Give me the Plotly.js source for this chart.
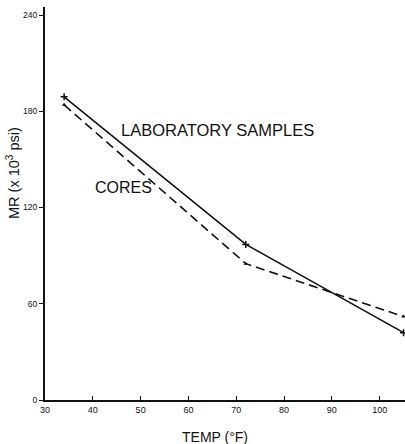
<!DOCTYPE html>
<html>
<head>
<meta charset="utf-8">
<script src="https://cdn.plot.ly/plotly-3.0.1.min.js"></script>
<style>html,body{margin:0;padding:0;background:#fff;}#chart{width:405px;height:444px;}</style>
</head>
<body>
<div id="chart"></div>
<script>
const temps = [34, 72, 105];
const labSamples = [189, 97, 42];
const cores = [184, 85, 52];
const xTicks = [30, 40, 50, 60, 70, 80, 90, 100];
const yTicks = [0, 60, 120, 180, 240];

const traces = [
  {x: temps, y: labSamples, mode: 'lines+markers', name: 'LABORATORY SAMPLES',
   line: {color: '#111', width: 1.6}, marker: {symbol: 'cross-thin', size: 5, color: '#111', line: {color: '#111', width: 1.5}}},
  {x: temps, y: cores, mode: 'lines+markers', name: 'CORES',
   line: {color: '#111', width: 1.6, dash: '9px,5px'}, marker: {symbol: 'triangle-up', size: 4, color: '#111'}}
];

const W = 360, H = 393;
const layout = {
  width: 405, height: 444,
  margin: {l: 45, r: 0, t: 7, b: 44},
  paper_bgcolor: '#fff', plot_bgcolor: '#fff',
  showlegend: false,
  font: {family: 'Liberation Sans, Arial, sans-serif', color: '#111'},
  xaxis: {range: [30, 105.3], tickvals: xTicks, ticktext: xTicks.map(String),
    ticks: 'inside', ticklen: 4, tickcolor: '#111', showgrid: false, zeroline: false,
    showline: true, linecolor: '#111', linewidth: 2, tickfont: {size: 9, color: '#111'}},
  yaxis: {range: [0, 245], tickvals: yTicks, ticktext: yTicks.map(String),
    ticks: 'outside', ticklen: 4, tickcolor: '#111', showgrid: false, zeroline: false,
    ticklabelstandoff: 0,
    showline: true, linecolor: '#111', linewidth: 2, tickfont: {size: 8.5, color: '#111'}},
  annotations: [
    {text: 'TEMP (°F)', xref: 'paper', yref: 'paper', x: (215-45)/W, y: (400-437)/H, showarrow: false,
     font: {size: 14, color: '#111'}, xanchor: 'center', yanchor: 'middle'},
    {text: 'MR (x 10<sup>3</sup> psi)', xref: 'paper', yref: 'paper', x: (13-45)/W, y: (400-173)/H, showarrow: false,
     textangle: -90, font: {size: 14.5, color: '#111'}, xanchor: 'center', yanchor: 'middle'},
    {text: 'LABORATORY SAMPLES', xref: 'paper', yref: 'paper', x: (119-45)/W, y: (400-130)/H, showarrow: false,
     font: {size: 16.5, color: '#111'}, xanchor: 'left', yanchor: 'middle'},
    {text: 'CORES', xref: 'paper', yref: 'paper', x: (93-45)/W, y: (400-187)/H, showarrow: false,
     font: {size: 16, color: '#111'}, xanchor: 'left', yanchor: 'middle'}
  ]
};

Plotly.newPlot('chart', traces, layout, {displayModeBar: false, staticPlot: true});
</script>
</body>
</html>
